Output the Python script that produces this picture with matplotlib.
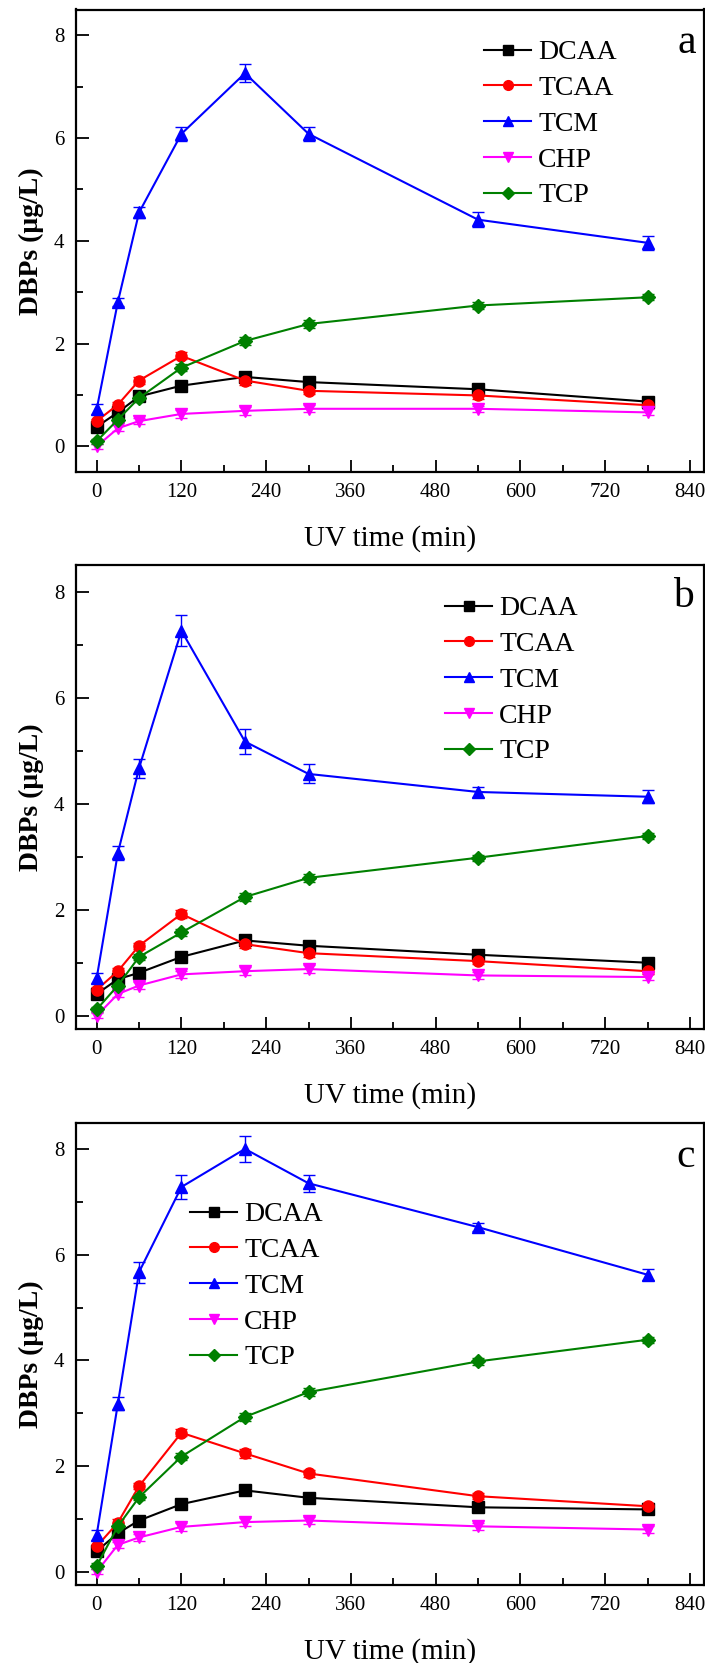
import numpy as np
import matplotlib
matplotlib.use("Agg")
import matplotlib.pyplot as plt
from matplotlib.lines import Line2D
from matplotlib.ticker import MultipleLocator

plt.rcParams['font.family'] = ['Liberation Serif', 'DejaVu Serif']

# ---- data ----
time_min = [0, 30, 60, 120, 210, 300, 540, 780]
species = ['DCAA', 'TCAA', 'TCM', 'CHP', 'TCP']
colors = ['black', 'red', 'blue', 'magenta', 'green']
markers = ['s', 'o', '^', 'v', 'D']
panel_labels = ['a', 'b', 'c']

# panel a
a_dcaa = [0.38, 0.66, 0.97, 1.18, 1.35, 1.25, 1.11, 0.87]
a_tcaa = [0.49, 0.81, 1.28, 1.76, 1.28, 1.08, 0.99, 0.80]
a_tcm = [0.72, 2.81, 4.55, 6.08, 7.26, 6.08, 4.41, 3.96]
a_chp = [0.00, 0.35, 0.49, 0.63, 0.69, 0.73, 0.73, 0.66]
a_tcp = [0.10, 0.52, 0.94, 1.53, 2.05, 2.38, 2.74, 2.90]
a_err_tcm = [0.10, 0.08, 0.10, 0.14, 0.18, 0.14, 0.14, 0.14]

# panel b
b_dcaa = [0.41, 0.69, 0.81, 1.11, 1.42, 1.32, 1.15, 1.00]
b_tcaa = [0.49, 0.84, 1.32, 1.92, 1.35, 1.18, 1.03, 0.84]
b_tcm = [0.71, 3.07, 4.67, 7.26, 5.17, 4.56, 4.22, 4.13]
b_chp = [0.00, 0.41, 0.57, 0.78, 0.84, 0.88, 0.76, 0.73]
b_tcp = [0.12, 0.57, 1.11, 1.57, 2.24, 2.60, 2.98, 3.39]
b_err_tcm = [0.10, 0.14, 0.18, 0.29, 0.24, 0.18, 0.10, 0.12]

# panel c
c_dcaa = [0.39, 0.73, 0.97, 1.28, 1.54, 1.40, 1.22, 1.18]
c_tcaa = [0.48, 0.93, 1.62, 2.63, 2.24, 1.86, 1.43, 1.24]
c_tcm = [0.70, 3.18, 5.67, 7.28, 8.00, 7.35, 6.52, 5.62]
c_chp = [0.00, 0.51, 0.65, 0.85, 0.94, 0.97, 0.86, 0.80]
c_tcp = [0.11, 0.86, 1.41, 2.18, 2.93, 3.40, 3.98, 4.39]
c_err_tcm = [0.10, 0.12, 0.20, 0.22, 0.24, 0.16, 0.08, 0.10]

small_err = [0.05, 0.06, 0.06, 0.07, 0.08, 0.07, 0.06, 0.06]

panels = [
    [a_dcaa, a_tcaa, a_tcm, a_chp, a_tcp],
    [b_dcaa, b_tcaa, b_tcm, b_chp, b_tcp],
    [c_dcaa, c_tcaa, c_tcm, c_chp, c_tcp],
]
tcm_errs = [a_err_tcm, b_err_tcm, c_err_tcm]
ylims = [(-0.5, 8.5), (-0.25, 8.5), (-0.25, 8.5)]

# ---- layout in pixels ----
W, H = 705, 1663
ax_left, ax_right = 75.5, 704
ax_tops = [9.5, 565, 1122.5]
ax_bots = [472, 1029, 1585]
leg_pos = [(484, 40), (445, 596), (190, 1202)]
lab_pos = [(687, 43), (683, 597), (686, 1157)]

fig = plt.figure(figsize=(W / 100, H / 100), dpi=100)

for k in range(3):
    top, bot = ax_tops[k], ax_bots[k]
    ax = fig.add_axes([ax_left / W, 1 - bot / H, (ax_right - ax_left) / W, (bot - top) / H])
    handles = []
    for i, name in enumerate(species):
        yerr = tcm_errs[k] if name == 'TCM' else small_err
        ms = 8 if markers[i] != 'D' else 7
        ax.errorbar(time_min, panels[k][i], yerr=yerr, color=colors[i], marker=markers[i],
                    markersize=ms, linewidth=1.5, ecolor=colors[i],
                    elinewidth=1.0, capsize=4, capthick=1.0)
        handles.append(Line2D([], [], color=colors[i], marker=markers[i],
                              markersize=ms - 1, linewidth=1.5, label=name))
    ax.set_xlim(-30, 860)
    ax.set_ylim(*ylims[k])
    ax.xaxis.set_major_locator(MultipleLocator(120))
    ax.xaxis.set_minor_locator(MultipleLocator(60))
    ax.yaxis.set_major_locator(MultipleLocator(2))
    ax.yaxis.set_minor_locator(MultipleLocator(1))
    ax.tick_params(which='both', direction='in', labelsize=15, width=1.3)
    ax.tick_params(which='major', length=9, pad=8)
    ax.tick_params(which='minor', length=5)
    for sp in ax.spines.values():
        sp.set_linewidth(1.6)
    ax.set_xlabel('UV time (min)', fontsize=21)
    ax.set_ylabel('DBPs (μg/L)', fontsize=20, fontweight='bold')
    ax.xaxis.set_label_coords(0.5, -0.115)
    ax.yaxis.set_label_coords(-0.05, 0.5)

    lx, ly = leg_pos[k]
    ax.legend(handles=handles, loc='upper left', bbox_to_anchor=(lx / W, 1 - ly / H),
              bbox_transform=fig.transFigure, frameon=False, fontsize=20,
              borderpad=0, borderaxespad=0, labelspacing=0.37,
              handlelength=1.7, handletextpad=0.25)

    tx, ty = lab_pos[k]
    fig.text(tx / W, 1 - ty / H, panel_labels[k], fontsize=30, ha='center', va='center')

fig.savefig('out.png', dpi=100)
